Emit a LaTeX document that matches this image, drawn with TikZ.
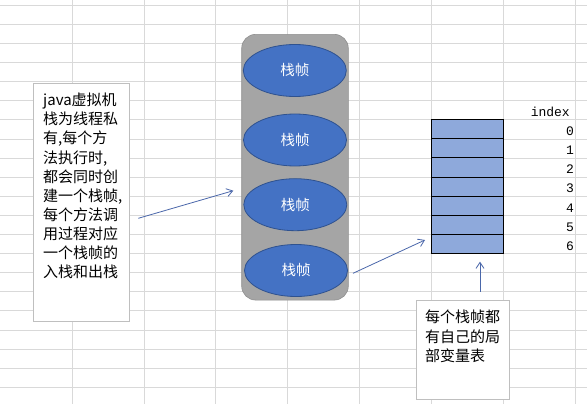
\documentclass[tikz,border=0pt]{standalone}
\usepackage{fontspec}
\setmainfont{Noto Sans CJK SC}
\newfontfamily\idxfont{Liberation Mono}
\usetikzlibrary{shapes.geometric,arrows.meta,calc}
\definecolor{gridc}{HTML}{D9D9D9}
\definecolor{boxc}{HTML}{BFBFBF}
\definecolor{stackfill}{HTML}{A5A5A5}
\definecolor{stackline}{HTML}{8F8F8F}
\definecolor{ellfill}{HTML}{4472C4}
\definecolor{ellline}{HTML}{2F528F}
\definecolor{cellfill}{HTML}{8EA9DB}
\definecolor{arrowc}{HTML}{4A67AA}
\begin{document}
\begin{tikzpicture}[x=1pt,y=-1pt,
  gridline/.style={draw=gridc,line width=0.7pt},
  framebox/.style={draw=boxc,fill=white,line width=0.6pt,inner sep=0pt,anchor=north west},
  bodytext/.style={font=\fontsize{15}{19.1}\selectfont,align=left,inner sep=0pt,anchor=base west,text=black},
  stackbox/.style={draw=stackline,fill=stackfill,rounded corners=14pt,line width=0.6pt,inner sep=0pt,minimum width=106.6pt,minimum height=265.7pt},
  frameell/.style={ellipse,draw=ellline,fill=ellfill,line width=0.8pt,inner sep=0pt,minimum width=103pt,minimum height=52pt,text=white,font=\fontsize{14.5}{16}\selectfont},
  cellbox/.style={draw=black,fill=cellfill,line width=0.9pt,inner sep=0pt,minimum width=71.6pt,minimum height=19.1pt},
  idx/.style={font=\idxfont\fontsize{13}{15}\selectfont,inner sep=0pt,anchor=east,text=black},
  link/.style={draw=arrowc,line width=0.8pt,-{Straight Barb[length=6pt,width=8pt]}}
]
\useasboundingbox (0,0) rectangle (587,404);
\fill[white] (0,0) rectangle (587,404);
% spreadsheet grid
\foreach \i in {0,...,7} \draw[gridline] ({72+71.9*\i},0) -- ({72+71.9*\i},404);
\foreach \j in {0,...,20} \draw[gridline] (0,{5.2+19.1*\j}) -- (587,{5.2+19.1*\j});

% left explanation box (text anchored at the baseline of its last line)
\node[framebox,minimum width=96pt,minimum height=238pt] (lbox) at (33,83) {};
\node[bodytext] (ltext) at (43,277.6) {java虚拟机\\栈为线程私\\有,每个方\\法执行时,\\都会同时创\\建一个栈帧,\\每个方法调\\用过程对应\\一个栈帧的\\入栈和出栈};

% stack
\node[stackbox] (stack) at (295,167.2) {};
\node[frameell] (f1) at (294.8,70.5) {栈帧};
\node[frameell] (f2) at (295,140) {栈帧};
\node[frameell] (f3) at (295.3,204.7) {栈帧};
\node[frameell] (f4) at (296,270.5) {栈帧};

% local variable table
\foreach \k in {0,...,6} \node[cellbox] (c\k) at (467.5,{119.7+19.1*\k+9.55}) {};
\node[idx] (ihead) at (570,112.3) {index};
\foreach \k in {0,...,6} \node[idx] (i\k) at (574,{131+19.2*\k}) {\k};

% right explanation box
\node[framebox,minimum width=93pt,minimum height=99pt] (rbox) at (416,300) {};
\node[bodytext,font=\fontsize{15}{19.4}\selectfont] (rtext) at (425,361.5) {每个栈帧都\\有自己的局\\部变量表};

% connectors
\coordinate (a1s) at (138.3,218.3);
\coordinate (a1e) at (233.3,190.7);
\coordinate (a2s) at (353,273.3);
\coordinate (a2e) at (425,240);
\coordinate (a3s) at (480,291.7);
\coordinate (a3e) at (480,261.7);
\draw[link] (a1s) -- (a1e);
\draw[link] (a2s) -- (a2e);
\draw[link] (a3s) -- (a3e);
\end{tikzpicture}
\end{document}
